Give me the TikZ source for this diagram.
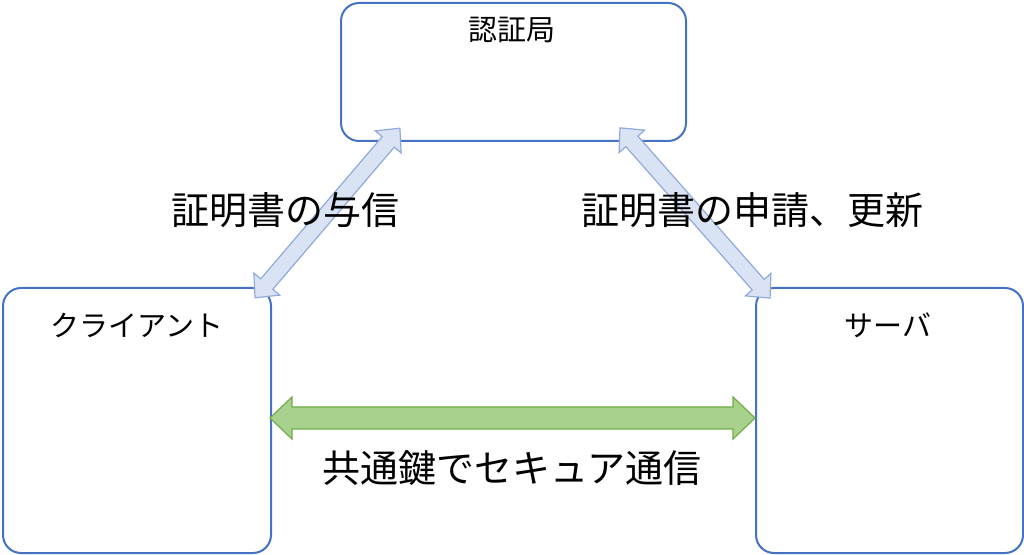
\documentclass[tikz,border=0pt]{standalone}
\usepackage{fontspec}
\setmainfont{Noto Sans CJK JP}
\definecolor{boxblue}{HTML}{4472C4}
\definecolor{arrfill}{HTML}{DAE3F3}
\definecolor{arredge}{HTML}{8FAADC}
\definecolor{gfill}{HTML}{A9D18E}
\definecolor{gedge}{HTML}{70AD47}
\tikzset{
  ent/.style={draw=boxblue,line width=2pt,rounded corners=18pt,anchor=north west},
  bptr/.style={draw=arredge,fill=arrfill,line width=1.2pt,line join=miter},
  gptr/.style={draw=gedge,fill=gfill,line width=1.2pt,line join=miter},
  lbl/.style={font=\fontsize{38pt}{40pt}\selectfont},
  blbl/.style={font=\fontsize{29pt}{32pt}\selectfont}
}
\newcommand{\dblarrow}[5]{% L, s, h, k, style
  \path[#5] (-#1/2,0) -- (-#1/2+#4,#3) -- (-#1/2+#4,#2) -- (#1/2-#4,#2) -- (#1/2-#4,#3) -- (#1/2,0)
   -- (#1/2-#4,-#3) -- (#1/2-#4,-#2) -- (-#1/2+#4,-#2) -- (-#1/2+#4,-#3) -- cycle;}
\begin{document}
\begin{tikzpicture}[x=1pt,y=1pt]
\useasboundingbox (0,0) rectangle (1024,554);
\node[ent,minimum width=345pt,minimum height=138pt] (ca) at (340,552) {};
\node[ent,minimum width=268pt,minimum height=265pt] (cl) at (2,267) {};
\node[ent,minimum width=267pt,minimum height=265pt] (sv) at (755,267) {};
\node[blbl] (tca) at (512,524) {認証局};
\node[blbl] (tcl) at (137,229) {クライアント};
\node[blbl] (tsv) at (888,229) {サーバ};
\begin{scope}[shift={(327.5,341)},rotate=49.5]\dblarrow{223}{8}{17}{18}{bptr}\end{scope}
\begin{scope}[shift={(695,341)},rotate=-48.6]\dblarrow{227}{8}{17}{18}{bptr}\end{scope}
\begin{scope}[shift={(512.5,136)}]\dblarrow{485}{11}{21}{22}{gptr}\end{scope}
\node[lbl] (l1) at (285,344) {証明書の与信};
\node[lbl] (l2) at (752,344) {証明書の申請、更新};
\node[lbl] (l3) at (512,86) {共通鍵でセキュア通信};
\end{tikzpicture}
\end{document}
